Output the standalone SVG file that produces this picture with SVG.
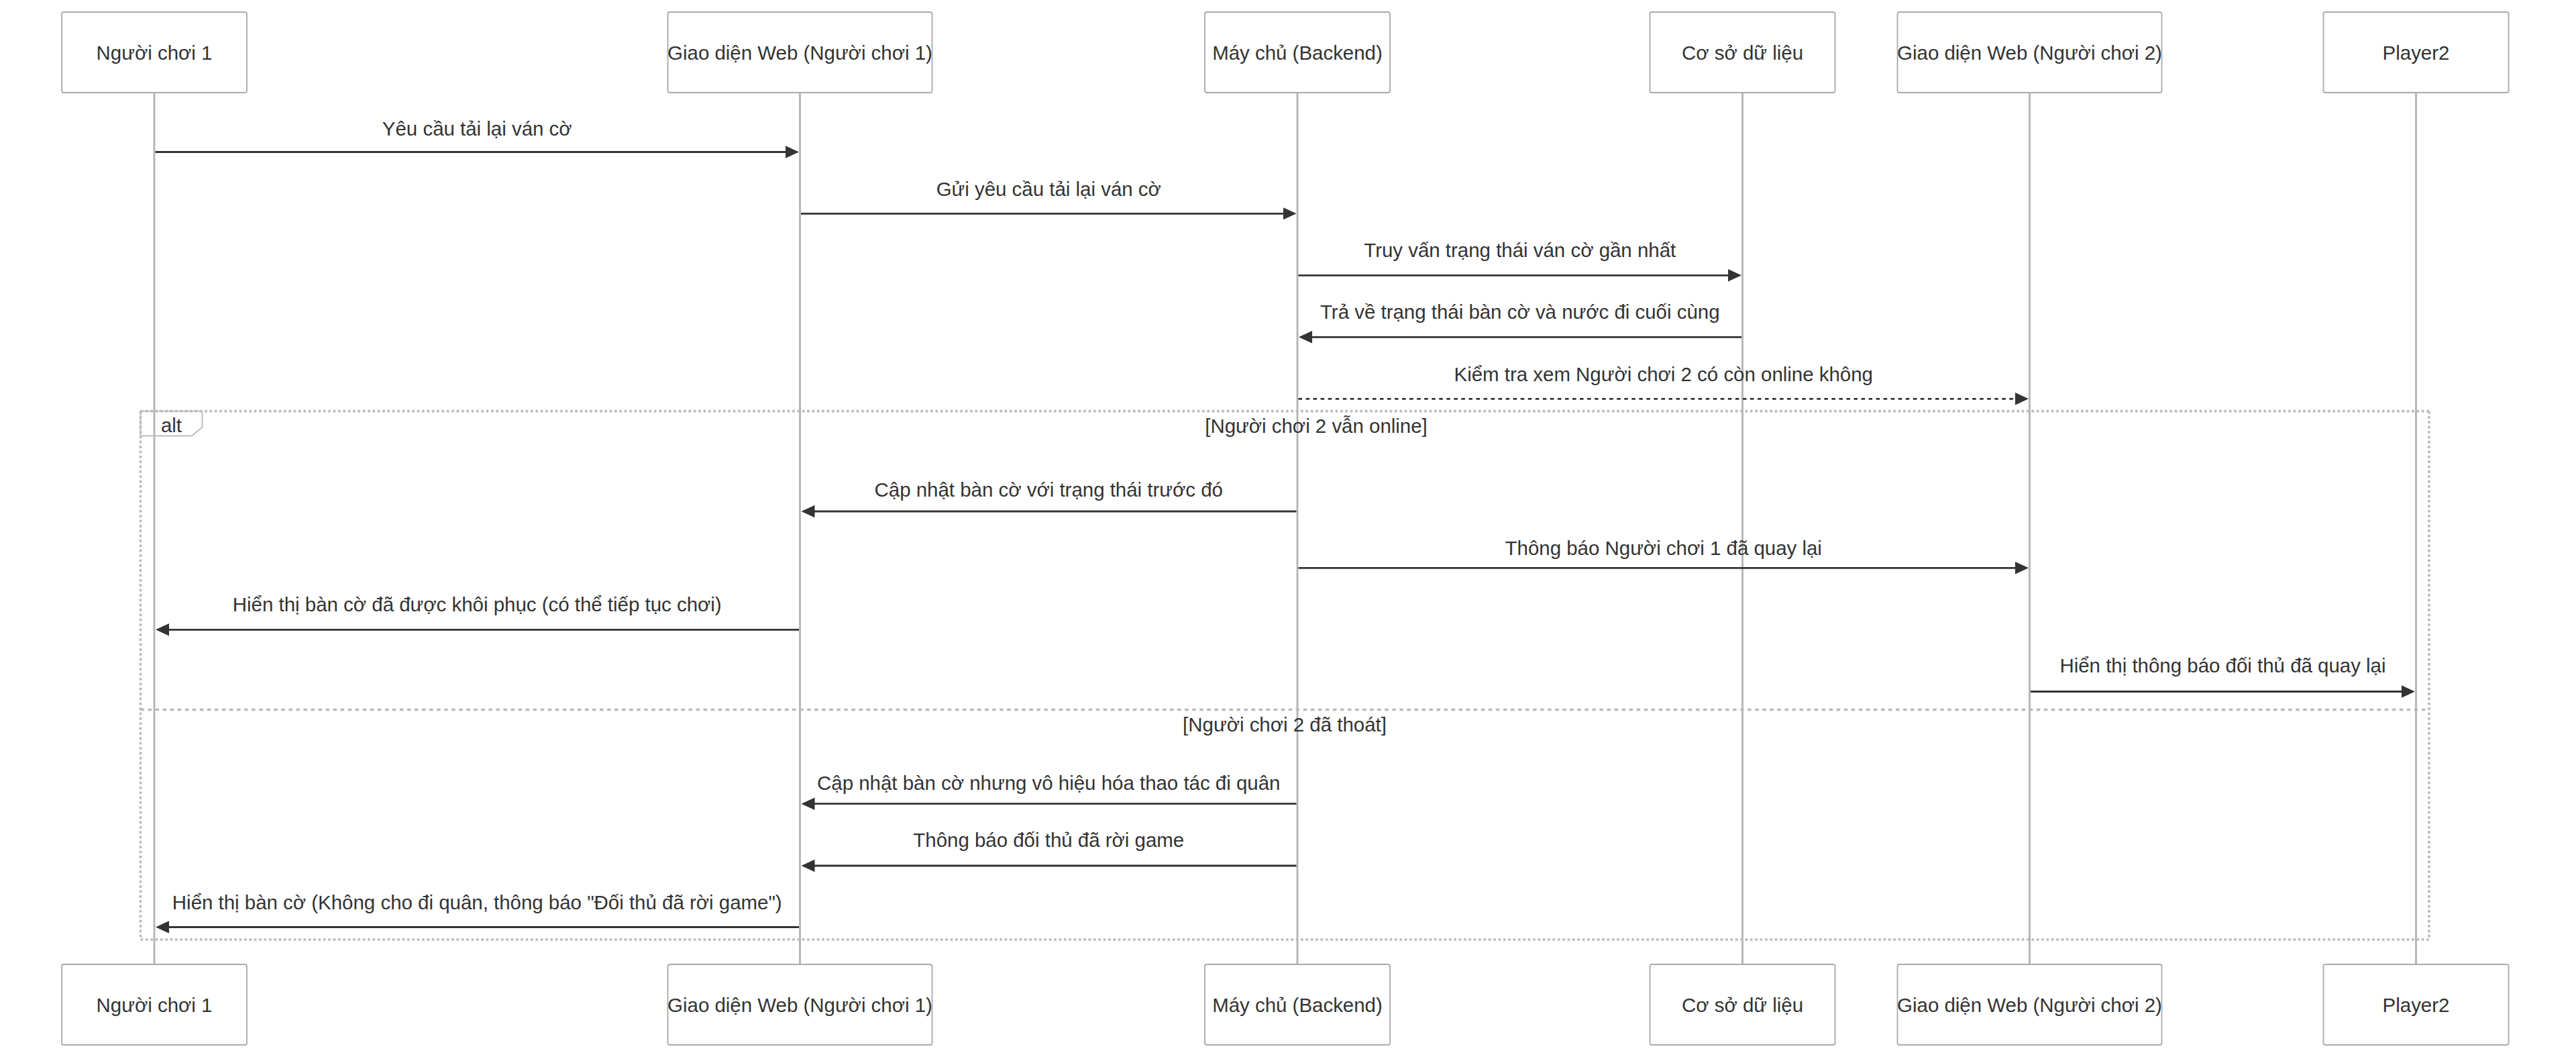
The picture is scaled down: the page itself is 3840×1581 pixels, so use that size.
<svg xmlns="http://www.w3.org/2000/svg" width="3840" height="1581" viewBox="0 0 3840 1581">
<defs>
<style>
text{font-family:"Liberation Sans",Arial,Helvetica,sans-serif;font-size:29.44px;fill:#333;}
.actor{fill:#fff;stroke:#aaa;stroke-width:1.84;}
.alabel{text-anchor:middle;dominant-baseline:central;}
.life{stroke:#b3b3b3;stroke-width:2.8;}
.msg{stroke:#333;stroke-width:2.76;fill:none;marker-end:url(#ah);}
.dot{stroke-dasharray:5.52 5.52;}
.mtext{text-anchor:middle;}
.loop{stroke:#bbb;stroke-width:3.68;stroke-dasharray:3.68 3.68;fill:none;}
.divider{stroke:#bbb;stroke-width:3.68;stroke-dasharray:5.52 5.52;fill:none;}
.lbox{fill:none;stroke:#bbb;stroke-width:1.84;}
</style>
<marker id="ah" markerUnits="userSpaceOnUse" markerWidth="22" markerHeight="20" viewBox="0 0 22 20" refX="16" refY="10" orient="auto">
<path d="M0,0.7 L20,10 L0,19.3 z" fill="#333"/>
</marker>
</defs>
<rect x="0" y="0" width="3840" height="1581" fill="#fff"/>
<g id="lifelines">
<line class="life" x1="230" y1="138" x2="230" y2="1437"/>
<line class="life" x1="1192.5" y1="138" x2="1192.5" y2="1437"/>
<line class="life" x1="1934" y1="138" x2="1934" y2="1437"/>
<line class="life" x1="2597.5" y1="138" x2="2597.5" y2="1437"/>
<line class="life" x1="3025.5" y1="138" x2="3025.5" y2="1437"/>
<line class="life" x1="3601.5" y1="138" x2="3601.5" y2="1437"/>
</g>
<g id="actor-nguoichoi1">
<rect class="actor" x="92" y="18" width="276" height="120" rx="3"/>
<text class="alabel" x="230" y="78">Người chơi 1</text>
<rect class="actor" x="92" y="1437" width="276" height="120" rx="3"/>
<text class="alabel" x="230" y="1497">Người chơi 1</text>
</g>
<g id="actor-web1">
<rect class="actor" x="995.5" y="18" width="394" height="120" rx="3"/>
<text class="alabel" x="1192.5" y="78">Giao diện Web (Người chơi 1)</text>
<rect class="actor" x="995.5" y="1437" width="394" height="120" rx="3"/>
<text class="alabel" x="1192.5" y="1497">Giao diện Web (Người chơi 1)</text>
</g>
<g id="actor-backend">
<rect class="actor" x="1796" y="18" width="276" height="120" rx="3"/>
<text class="alabel" x="1934" y="78">Máy chủ (Backend)</text>
<rect class="actor" x="1796" y="1437" width="276" height="120" rx="3"/>
<text class="alabel" x="1934" y="1497">Máy chủ (Backend)</text>
</g>
<g id="actor-db">
<rect class="actor" x="2459.5" y="18" width="276" height="120" rx="3"/>
<text class="alabel" x="2597.5" y="78">Cơ sở dữ liệu</text>
<rect class="actor" x="2459.5" y="1437" width="276" height="120" rx="3"/>
<text class="alabel" x="2597.5" y="1497">Cơ sở dữ liệu</text>
</g>
<g id="actor-web2">
<rect class="actor" x="2828.5" y="18" width="394" height="120" rx="3"/>
<text class="alabel" x="3025.5" y="78">Giao diện Web (Người chơi 2)</text>
<rect class="actor" x="2828.5" y="1437" width="394" height="120" rx="3"/>
<text class="alabel" x="3025.5" y="1497">Giao diện Web (Người chơi 2)</text>
</g>
<g id="actor-player2">
<rect class="actor" x="3463.5" y="18" width="276" height="120" rx="3"/>
<text class="alabel" x="3601.5" y="78">Player2</text>
<rect class="actor" x="3463.5" y="1437" width="276" height="120" rx="3"/>
<text class="alabel" x="3601.5" y="1497">Player2</text>
</g>
<g id="alt-frame">
<line class="loop" x1="209.5" y1="612.7" x2="3621" y2="612.7"/>
<line class="loop" x1="3621" y1="612.7" x2="3621" y2="1400"/>
<line class="loop" x1="209.5" y1="1400" x2="3621" y2="1400"/>
<line class="loop" x1="209.5" y1="612.7" x2="209.5" y2="1400"/>
<line class="divider" x1="209.5" y1="1057.5" x2="3621" y2="1057.5"/>
<polygon class="lbox" points="209.5,612.7 301.5,612.7 301.5,636.5 286,649.5 209.5,649.5"/>
<text x="255.5" y="644" text-anchor="middle">alt</text>
<text x="1962" y="645" text-anchor="middle">[Người chơi 2 vẫn online]</text>
<text x="1915" y="1090" text-anchor="middle">[Người chơi 2 đã thoát]</text>
</g>
<g id="connectors">
<line class="msg" x1="231.5" y1="226.5" x2="1187" y2="226.5"/>
<text class="mtext" x="711.25" y="201.7">Yêu cầu tải lại ván cờ</text>
<line class="msg" x1="1194" y1="318.3" x2="1928.5" y2="318.3"/>
<text class="mtext" x="1563.25" y="291.7">Gửi yêu cầu tải lại ván cờ</text>
<line class="msg" x1="1935.5" y1="410.3" x2="2592" y2="410.3"/>
<text class="mtext" x="2265.75" y="383.3">Truy vấn trạng thái ván cờ gần nhất</text>
<line class="msg" x1="2596" y1="502.3" x2="1940" y2="502.3"/>
<text class="mtext" x="2265.75" y="475.3">Trả về trạng thái bàn cờ và nước đi cuối cùng</text>
<line class="msg dot" x1="1935.5" y1="594.3" x2="3020" y2="594.3"/>
<text class="mtext" x="2479.75" y="567.7">Kiểm tra xem Người chơi 2 có còn online không</text>
<line class="msg" x1="1932.5" y1="762" x2="1198.5" y2="762"/>
<text class="mtext" x="1563.25" y="740">Cập nhật bàn cờ với trạng thái trước đó</text>
<line class="msg" x1="1935.5" y1="846.3" x2="3020" y2="846.3"/>
<text class="mtext" x="2479.75" y="826.7">Thông báo Người chơi 1 đã quay lại</text>
<line class="msg" x1="1191" y1="938.3" x2="236" y2="938.3"/>
<text class="mtext" x="711.25" y="910.7">Hiển thị bàn cờ đã được khôi phục (có thể tiếp tục chơi)</text>
<line class="msg" x1="3027" y1="1030.5" x2="3596" y2="1030.5"/>
<text class="mtext" x="3313.5" y="1002.4">Hiển thị thông báo đối thủ đã quay lại</text>
<line class="msg" x1="1932.5" y1="1197.7" x2="1198.5" y2="1197.7"/>
<text class="mtext" x="1563.25" y="1177">Cập nhật bàn cờ nhưng vô hiệu hóa thao tác đi quân</text>
<line class="msg" x1="1932.5" y1="1290" x2="1198.5" y2="1290"/>
<text class="mtext" x="1563.25" y="1262">Thông báo đối thủ đã rời game</text>
<line class="msg" x1="1191" y1="1381.5" x2="236" y2="1381.5"/>
<text class="mtext" x="711.25" y="1355">Hiển thị bàn cờ (Không cho đi quân, thông báo "Đối thủ đã rời game")</text>
</g>
</svg>
